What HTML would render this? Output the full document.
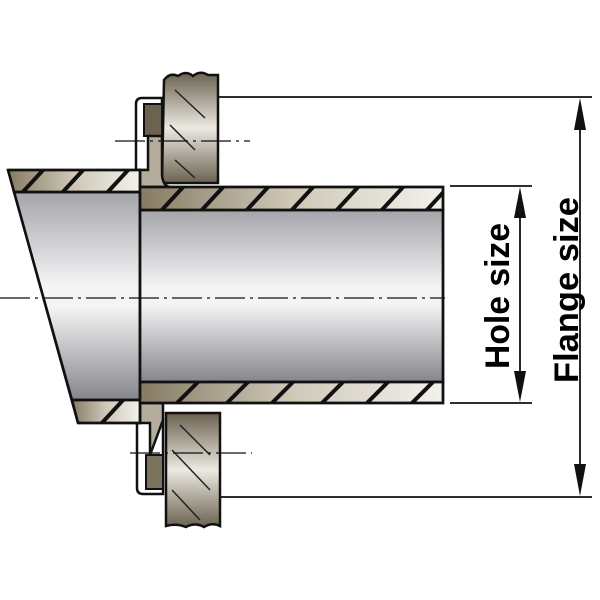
<!DOCTYPE html>
<html><head><meta charset="utf-8"><style>html,body{margin:0;padding:0;background:#fff}svg{display:block}</style></head>
<body>
<svg width="600" height="600" viewBox="0 0 600 600" xmlns="http://www.w3.org/2000/svg">
<defs>
<linearGradient id="gray" x1="0" y1="0" x2="0" y2="1">
<stop offset="0" stop-color="#a4a5aa"/><stop offset="0.45" stop-color="#f4f4f5"/><stop offset="0.55" stop-color="#f4f4f5"/><stop offset="1" stop-color="#85868b"/></linearGradient>
<linearGradient id="bronzeV" x1="0" y1="0" x2="0" y2="1">
<stop offset="0" stop-color="#6b6250"/><stop offset="0.5" stop-color="#ece9e2"/><stop offset="1" stop-color="#6b6250"/></linearGradient>
<linearGradient id="bronzeH" x1="0" y1="0" x2="1" y2="0">
<stop offset="0" stop-color="#857b64"/><stop offset="0.5" stop-color="#cfc8b8"/><stop offset="1" stop-color="#f3f1ec"/></linearGradient>
<clipPath id="ct"><path d="M140,187 L443,187 L443,210 L140,210Z M8,170 L140,170 L140,192 L14,192Z"/></clipPath>
<clipPath id="cb"><path d="M140,382 L443,382 L443,403 L140,403Z M72,400 L140,400 L140,423 L78,423Z"/></clipPath>
</defs>
<g stroke="#111" stroke-width="2.5" fill="none">
<path d="M164,80 Q170,72 178,76 Q186,70 193,76 Q200,70 208,75 L218,75 L218,183 L166,183 Q162,183 162,178 Z" fill="url(#bronzeV)"/>
<path d="M166,413 L220,413 L220,526 Q212,522 204,527 Q195,522 186,527 Q176,523 166,526 Z" fill="url(#bronzeV)"/>
<path d="M136,104 Q136,98 142,98 L162,98 L162,170 L136,170 Z" fill="#fff"/>
<rect x="144" y="104" width="18" height="32" fill="#6b6250" stroke-width="2"/>
<path d="M137,420 L163,420 L163,494 L143,494 Q137,494 137,488 Z" fill="#fff"/>
<rect x="146" y="455" width="17" height="34" fill="#7c735f" stroke-width="2"/>
<path d="M148,136 L162,136 L162,175 Q163,186 170,187 L140,187 L140,170 L148,170Z" fill="#b5ad9b"/>
<path d="M150,455 L163,420 L163,403 L140,403 L140,423 L150,423 Z" fill="#b5ad9b"/>
<path d="M14,192 L140,192 L140,400 L72,400 Z" fill="url(#gray)"/>
<rect x="140" y="210" width="303" height="172" fill="url(#gray)"/>
<path d="M8,170 L140,170 L140,192 L14,192 Z" fill="url(#bronzeH)"/>
<path d="M140,187 L443,187 L443,210 L140,210 Z" fill="url(#bronzeH)"/>
<path d="M72,400 L140,400 L140,423 L78,423 Z" fill="url(#bronzeH)"/>
<path d="M140,382 L443,382 L443,403 L140,403 Z" fill="url(#bronzeH)"/>
<path d="M8,170 L78,423" />
<line x1="140" y1="192" x2="140" y2="400"/>
</g>
<g stroke="#111" stroke-width="4" clip-path="url(#ct)">
<path d="M20,195 L45,168 M60,195 L85,168 M105,195 L130,168 M160,212 L185,185 M200,212 L225,185 M245,212 L270,185 M290,212 L315,185 M335,212 L360,185 M380,212 L405,185 M425,212 L450,185"/>
</g>
<g stroke="#111" stroke-width="4" clip-path="url(#cb)">
<path d="M100,425 L125,398 M175,405 L200,380 M225,405 L250,380 M270,405 L295,380 M320,405 L345,380 M365,405 L390,380 M410,405 L435,380"/>
</g>
<g stroke="#222" stroke-width="1.5">
<path d="M175,90 L205,118 M170,125 L195,150 M175,160 L195,178 M180,425 L210,455 M172,450 L210,490 M172,490 L200,520"/>
</g>
<g stroke="#111" stroke-width="2.5" fill="none">
<path d="M8,170 L140,170 L140,187 L443,187 L443,403 L140,403 L140,423 L78,423"/>
<path d="M14,192 L140,192 M140,210 L443,210 M140,382 L443,382 M72,400 L140,400"/>
</g>
<g stroke="#111" stroke-width="1.2" stroke-dasharray="30,5,3,5">
<line x1="0" y1="298" x2="445" y2="298"/>
<line x1="115" y1="141" x2="250" y2="141"/>
<line x1="130" y1="453" x2="252" y2="453"/>
</g>
<g stroke="#111" stroke-width="1.8">
<line x1="218" y1="97" x2="592" y2="97"/>
<line x1="220" y1="497" x2="592" y2="497"/>
<line x1="450" y1="186" x2="532" y2="186"/>
<line x1="450" y1="403" x2="532" y2="403"/>
<line x1="520" y1="200" x2="520" y2="390"/>
<line x1="580" y1="112" x2="580" y2="482"/>
</g>
<g fill="#111">
<path d="M520,187 L514,218 L526,218Z M520,402 L514,371 L526,371Z"/>
<path d="M580,98 L574,130 L586,130Z M580,496 L574,464 L586,464Z"/>
</g>
<g font-family="Liberation Sans, Arial, sans-serif" font-weight="bold" font-size="34" fill="#000" text-anchor="middle">
<text transform="translate(509,296) rotate(-90)" textLength="146" lengthAdjust="spacingAndGlyphs">Hole size</text>
<text transform="translate(578,290) rotate(-90)" textLength="186" lengthAdjust="spacingAndGlyphs">Flange size</text>
</g>
</svg>
</body></html>
